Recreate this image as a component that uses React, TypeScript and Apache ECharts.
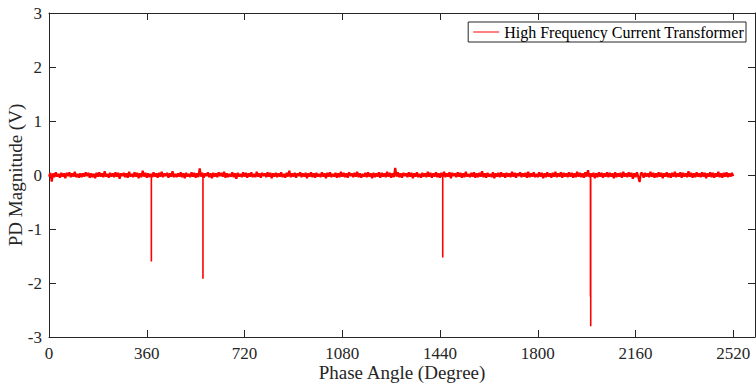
import React, { useEffect, useRef } from "react";
import * as echarts from "echarts";

// Phase-angle step of the background noise trace (degrees)
const noiseStart = 0;
const noiseStep = 5;
// Background noise, in hundredths of a volt (one row = 120 degrees)
const noiseHundredths: number[] = [
  -3, 4, -12, 3, -4, 5, -3, 2, -5, 4, -3, 3, -6, 4, -2, 5, -4, 3, -3, 6, -4, 2, -5, 3,
  -4, 3, -3, 5, -2, 4, -5, 3, -4, 2, -6, 4, -3, 5, -3, 3, -4, 7, -3, 2, -5, 4, -3, 3,
  -4, 5, -3, 4, -7, 3, -2, 4, -4, 3, -5, 6, -3, 2, -4, 5, -3, 4, -6, 3, -4, 8, -3, 4,
  -5, 3, -4, 2, -4, 5, -3, 3, -5, 4, -3, 6, -4, 3, -2, 4, -5, 3, -3, 7, -4, 2, -4, 3,
  -3, 5, -4, 3, -6, 4, -3, 2, -4, 5, -3, 4, -5, 3, -4, 12, -3, 4, -5, 3, -2, 5, -4, 3,
  -6, 4, -3, 3, -4, 5, -2, 4, -3, 6, -5, 3, -4, 2, -3, 5, -4, 3, -7, 4, -3, 2, -4, 5,
  -3, 4, -5, 3, -3, 5, -4, 2, -4, 6, -3, 3, -5, 4, -2, 3, -4, 5, -3, 4, -6, 3, -3, 4,
  -4, 3, -3, 5, -4, 2, -5, 4, -3, 8, -4, 3, -3, 4, -5, 3, -2, 5, -4, 3, -3, 4, -6, 3,
  -3, 5, -4, 3, -5, 4, -3, 2, -4, 5, -3, 3, -6, 4, -3, 5, -4, 2, -3, 4, -5, 3, -4, 6,
  -3, 4, -4, 3, -5, 5, -2, 3, -4, 4, -3, 6, -4, 3, -5, 2, -3, 4, -4, 5, -3, 3, -6, 4,
  -4, 3, -3, 5, -5, 4, -3, 3, -4, 6, -3, 4, -5, 3, -4, 13, -3, 5, -4, 3, -5, 4, -2, 3,
  -4, 5, -3, 4, -6, 3, -3, 5, -4, 2, -5, 4, -3, 3, -4, 6, -3, 4, -5, 3, -3, 5, -4, 3,
  -5, 4, -3, 6, -4, 3, -3, 5, -6, 4, -2, 3, -4, 5, -3, 4, -5, 3, -4, 6, -3, 2, -4, 4,
  -3, 5, -5, 3, -4, 4, -3, 7, -4, 3, -5, 4, -3, 2, -4, 5, -6, 3, -3, 4, -4, 5, -3, 3,
  -5, 4, -3, 3, -4, 6, -3, 4, -5, 3, -2, 5, -4, 3, -3, 4, -5, 6, -4, 3, -3, 5, -4, 2,
  -4, 5, -3, 4, -6, 3, -4, 5, -3, 3, -5, 4, -3, 6, -4, 3, -3, 5, -5, 4, -3, 3, -4, 5,
  -3, 4, -5, 3, -4, 6, -3, 4, -4, 3, -5, 5, -3, 9, -4, 3, -3, 4, -6, 3, -4, 5, -3, 4,
  -5, 3, -3, 5, -4, 4, -3, 3, -6, 5, -4, 3, -3, 4, -5, 6, -3, 3, -4, 5, -3, 4, -7, 3,
  -4, 5, -3, -13, 4, 3, -5, 4, -3, 3, -4, 6, -3, 4, -5, 3, -4, 5, -3, 4, -6, 3, -3, 5,
  -4, 3, -5, 4, -3, 6, -4, 3, -3, 5, -5, 4, -3, 3, -4, 7, -3, 4, -5, 3, -4, 5, -3, 3,
  -4, 5, -3, 4, -6, 3, -3, 5, -4, 4, -5, 3, -3, 6, -4, 3, -5, 4, -3, 5, -4, 3, -3, 4,
  -2,
];

// Partial-discharge pulses (phase angle in degrees, magnitude in volts)
const pulseAngles: number[] = [377, 567, 1450, 1994, 1995];
const pulseMagnitudes: number[] = [-1.6, -1.92, -1.53, -2.25, -2.8];

const xTicks: number[] = [0, 360, 720, 1080, 1440, 1800, 2160, 2520];
const yTicks: number[] = [-3, -2, -1, 0, 1, 2, 3];

const seriesName = "High Frequency Current Transformer";
const xName = "Phase Angle (Degree)";
const yName = "PD Magnitude (V)";

function buildNoise(): [number, number][] {
  return noiseHundredths.map((v, i) => [noiseStart + i * noiseStep, v / 100]);
}

function buildPulses(): ([number, number] | null)[] {
  const out: ([number, number] | null)[] = [];
  pulseAngles.forEach((a, i) => {
    out.push([a, 0]);
    out.push([a, pulseMagnitudes[i]]);
    out.push(null);
  });
  return out;
}

const FONT = "'Liberation Serif', 'Times New Roman', serif";
const INK = "#262626";

export default function App() {
  const ref = useRef<HTMLDivElement>(null);
  useEffect(() => {
    if (!ref.current) return;
    const chart = echarts.init(ref.current, undefined, { renderer: "svg" });
    const tickFmt = (v: number) => (xTicks.indexOf(v) >= 0 ? String(v) : "");
    chart.setOption({
      animation: false,
      backgroundColor: "#ffffff",
      textStyle: { fontFamily: FONT, color: INK },
      grid: { left: 49, right: 1, top: 13, bottom: 53, containLabel: false, outerBoundsMode: "none" },
      legend: {
        show: true,
        right: 10,
        top: 22,
        orient: "horizontal",
        icon: "rect",
        itemWidth: 26,
        itemHeight: 1,
        padding: [2, 2, 2, 5],
        borderColor: INK,
        borderWidth: 1,
        backgroundColor: "#ffffff",
        borderRadius: 0,
        itemStyle: { color: "#ff0000" },
        textStyle: { fontFamily: FONT, fontSize: 16, color: "#000000" },
        data: [seriesName],
      },
      xAxis: [
        {
          type: "value",
          min: 0,
          max: 2600,
          interval: 360,
          position: "bottom",
          name: xName,
          nameLocation: "middle",
          nameGap: 26,
          nameMoveOverlap: false,
          nameTextStyle: { fontFamily: FONT, fontSize: 19, color: INK },
          axisLine: { show: true, onZero: false, lineStyle: { color: INK, width: 1 } },
          axisTick: { show: true, inside: true, length: 7, customValues: xTicks, lineStyle: { color: INK } },
          axisLabel: { show: true, margin: 8, fontFamily: FONT, fontSize: 17, color: INK, customValues: xTicks, formatter: tickFmt },
          splitLine: { show: false },
        },
        {
          type: "value",
          min: 0,
          max: 2600,
          interval: 360,
          position: "top",
          axisLine: { show: true, onZero: false, lineStyle: { color: INK, width: 1 } },
          axisTick: { show: true, inside: true, length: 7, customValues: xTicks, lineStyle: { color: INK } },
          axisLabel: { show: false },
          splitLine: { show: false },
        },
      ],
      yAxis: [
        {
          type: "value",
          min: -3,
          max: 3,
          interval: 1,
          position: "left",
          name: yName,
          nameLocation: "middle",
          nameGap: 24,
          nameMoveOverlap: false,
          nameTextStyle: { fontFamily: FONT, fontSize: 19, color: INK },
          axisLine: { show: true, onZero: false, lineStyle: { color: INK, width: 1 } },
          axisTick: { show: true, inside: true, length: 7, customValues: yTicks, lineStyle: { color: INK } },
          axisLabel: { show: true, margin: 7, fontFamily: FONT, fontSize: 17, color: INK },
          splitLine: { show: false },
        },
        {
          type: "value",
          min: -3,
          max: 3,
          interval: 1,
          position: "right",
          axisLine: { show: true, onZero: false, lineStyle: { color: INK, width: 1 } },
          axisTick: { show: true, inside: true, length: 7, customValues: yTicks, lineStyle: { color: INK } },
          axisLabel: { show: false },
          splitLine: { show: false },
        },
      ],
      series: [
        {
          name: seriesName,
          type: "line",
          xAxisIndex: 0,
          yAxisIndex: 0,
          data: buildNoise(),
          symbol: "none",
          showSymbol: false,
          silent: true,
          lineStyle: { color: "#ff0000", width: 2.2 },
          itemStyle: { color: "#ff0000" },
          z: 1,
        },
        {
          name: seriesName,
          type: "line",
          xAxisIndex: 0,
          yAxisIndex: 0,
          data: buildPulses(),
          connectNulls: false,
          symbol: "none",
          showSymbol: false,
          silent: true,
          lineStyle: { color: "#ff0000", width: 1.6 },
          itemStyle: { color: "#ff0000" },
          z: 2,
        },
      ],
    });
    return () => chart.dispose();
  }, []);
  return <div ref={ref} style={{ width: 756, height: 390, position: "absolute", left: 0, top: 0 }} />;
}
